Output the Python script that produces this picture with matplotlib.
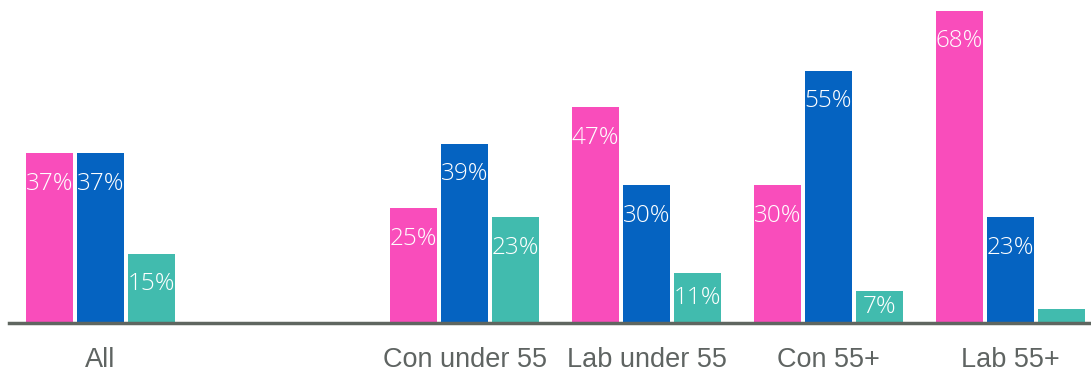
import numpy as np
import matplotlib.pyplot as plt

categories = ["All", "", "Con under 55", "Lab under 55", "Con 55+", "Lab 55+"]
pink_vals = [37, None, 25, 47, 30, 68]
blue_vals = [37, None, 39, 30, 55, 23]
teal_vals = [15, None, 23, 11, 7, 3]

colors = ["#F94DBB", "#0563C1", "#41BBAE"]
series = [pink_vals, blue_vals, teal_vals]

fig = plt.figure(figsize=(10.91, 3.71), dpi=100)
ax = fig.add_axes([9/1091, 48/371, 1083/1091, 323/371])

x = np.arange(len(categories))
w = 47/182
step = 51/182
for i, (vals, c) in enumerate(zip(series, colors)):
    for xi, v in zip(x, vals):
        if v is None:
            continue
        xb = xi + (i - 1)*step
        ax.bar(xb, v, width=w, color=c, edgecolor="none")
        if v >= 5:
            ty = max(v - 6.6, v/2)
            ax.text(xb, ty, f"{v}%", ha="center", va="center", color="white",
                    fontsize=17.5, family="Open Sans", fontweight="light")

ax.set_xlim(-0.503, 5.448)
ax.set_ylim(0, 70.4)
ax.set_xticks(x)
ax.set_xticklabels(categories, fontsize=19.5, color="#5F6462", family="Liberation Sans")
ax.tick_params(axis="x", length=0, pad=17)
ax.set_yticks([])
for s in ["top", "right", "left"]:
    ax.spines[s].set_visible(False)
ax.spines["bottom"].set_color("#5F6660")
ax.spines["bottom"].set_linewidth(2.5)

fig.savefig("out.png", dpi=100)
